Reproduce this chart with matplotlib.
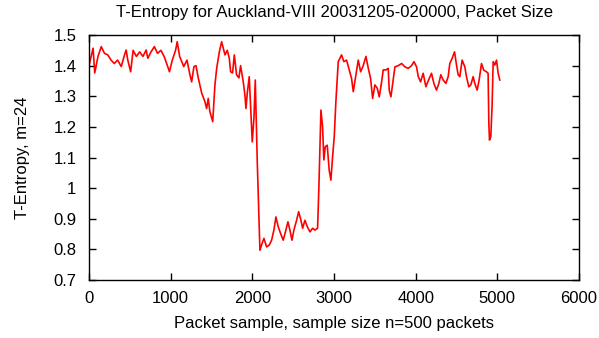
import numpy as np
import matplotlib.pyplot as plt

# sample index (packet sample) and T-entropy
sample = [0, 50, 70, 110, 150, 190, 230, 270, 310, 350, 395, 435, 455, 475, 510,
          540, 580, 620, 660, 700, 720, 760, 800, 840, 880, 920, 960, 985, 1020,
          1060, 1080, 1110, 1160, 1200, 1236, 1257, 1285, 1310, 1338, 1380, 1420,
          1440, 1460, 1480, 1515, 1542, 1563, 1596, 1624, 1665, 1693, 1718, 1734,
          1758, 1779, 1807, 1836, 1856, 1889, 1909, 1922, 1938, 1962, 1983, 1999,
          2020, 2036, 2060, 2093, 2113, 2142, 2175, 2207, 2236, 2264, 2289, 2317,
          2346, 2378, 2411, 2436, 2460, 2485, 2509, 2542, 2567, 2591, 2616, 2644,
          2673, 2706, 2738, 2767, 2799, 2815, 2840, 2860, 2876, 2893, 2917, 2941,
          2962, 2982, 3003, 3023, 3052, 3092, 3121, 3154, 3186, 3215, 3236, 3268,
          3297, 3326, 3358, 3391, 3420, 3448, 3473, 3501, 3530, 3554, 3583, 3603,
          3636, 3664, 3676, 3697, 3717, 3746, 3787, 3828, 3868, 3909, 3950, 3979,
          4011, 4032, 4060, 4092, 4125, 4153, 4194, 4223, 4255, 4284, 4308, 4337,
          4370, 4398, 4418, 4447, 4476, 4500, 4520, 4541, 4569, 4602, 4622, 4651,
          4675, 4704, 4724, 4753, 4777, 4806, 4834, 4867, 4887, 4896, 4904, 4920,
          4936, 4949, 4969, 4990, 5010, 5030]
entropy = [1.40, 1.457, 1.376, 1.43, 1.462, 1.44, 1.435, 1.418, 1.407, 1.418, 1.397,
           1.435, 1.451, 1.418, 1.38, 1.45, 1.43, 1.445, 1.43, 1.451, 1.424, 1.445,
           1.462, 1.44, 1.45, 1.43, 1.40, 1.38, 1.418, 1.45, 1.478, 1.43, 1.397,
           1.418, 1.37, 1.347, 1.397, 1.40, 1.36, 1.31, 1.282, 1.26, 1.293, 1.25,
           1.217, 1.337, 1.39, 1.445, 1.478, 1.435, 1.45, 1.424, 1.38, 1.376, 1.435,
           1.37, 1.36, 1.40, 1.347, 1.304, 1.26, 1.31, 1.364, 1.24, 1.151, 1.23,
           1.353, 1.09, 0.797, 0.814, 0.836, 0.808, 0.814, 0.83, 0.863, 0.906, 0.874,
           0.852, 0.83, 0.863, 0.89, 0.863, 0.83, 0.863, 0.895, 0.923, 0.90, 0.869,
           0.895, 0.874, 0.857, 0.869, 0.863, 0.869, 1.004, 1.255, 1.20, 1.092,
           1.135, 1.14, 1.059, 1.026, 1.10, 1.168, 1.282, 1.413, 1.435, 1.413, 1.418,
           1.386, 1.358, 1.315, 1.369, 1.418, 1.38, 1.40, 1.43, 1.391, 1.358, 1.293,
           1.337, 1.326, 1.298, 1.347, 1.386, 1.386, 1.391, 1.32, 1.298, 1.337,
           1.396, 1.40, 1.407, 1.396, 1.391, 1.40, 1.413, 1.396, 1.364, 1.347,
           1.375, 1.331, 1.35, 1.375, 1.342, 1.32, 1.342, 1.37, 1.353, 1.342, 1.364,
           1.407, 1.424, 1.445, 1.402, 1.37, 1.364, 1.418, 1.396, 1.364, 1.331,
           1.337, 1.364, 1.342, 1.32, 1.353, 1.407, 1.385, 1.38, 1.375, 1.21, 1.157,
           1.168, 1.27, 1.413, 1.402, 1.418, 1.375, 1.353]

plt.rcParams['font.family'] = ['Liberation Sans', 'DejaVu Sans']

fig = plt.figure(figsize=(5.99, 3.38), dpi=100)
ax = fig.add_axes([89 / 599, 1 - 280 / 338, 490 / 599, 245 / 338])

ax.plot(sample, entropy, color='red', linewidth=1.2)

ax.set_xlim(0, 6000)
ax.set_ylim(0.7, 1.5)
ax.set_xticks(np.arange(0, 6001, 1000))
ax.set_yticks(np.arange(0.7, 1.51, 0.1))
ax.set_yticklabels(['0.7', '0.8', '0.9', '1', '1.1', '1.2', '1.3', '1.4', '1.5'])
ax.tick_params(direction='in', top=True, right=True, length=5, width=1,
               labelsize=12)
ax.tick_params(axis='x', pad=8)
ax.tick_params(axis='y', pad=9)
for s in ax.spines.values():
    s.set_linewidth(1)

ax.set_title("T-Entropy for Auckland-VIII 20031205-020000, Packet Size",
             fontsize=12, pad=13)
ax.set_xlabel("Packet sample, sample size n=500 packets", fontsize=12, labelpad=7)
ax.set_ylabel("T-Entropy, m=24", fontsize=12, labelpad=17)

fig.savefig("out.png", dpi=100)
